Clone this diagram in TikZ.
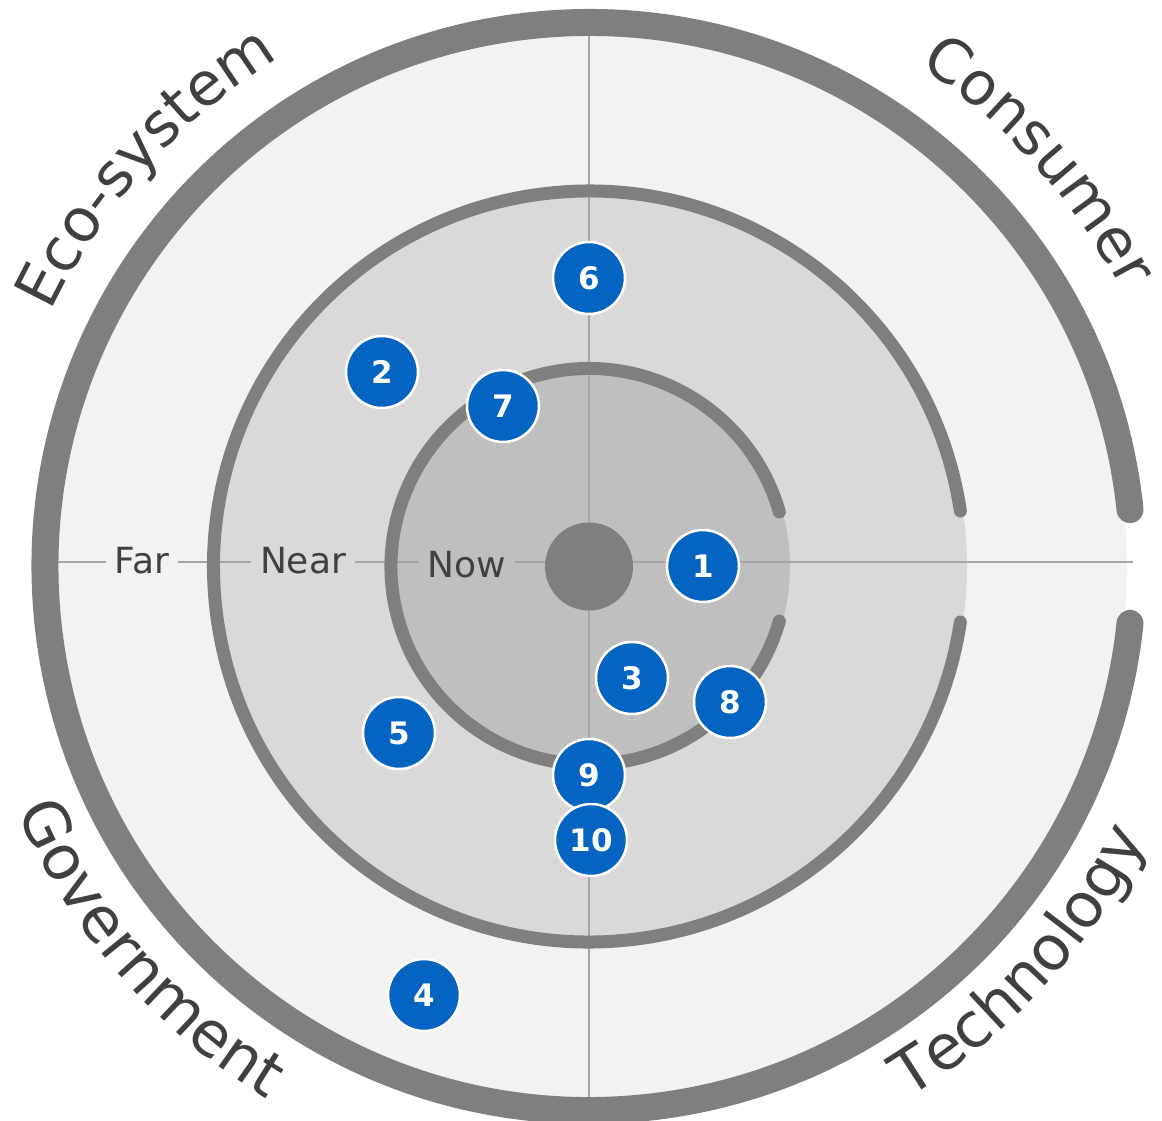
\documentclass[tikz,border=0pt]{standalone}
\usepackage{fontspec}
\setmainfont{DejaVu Sans}
\usetikzlibrary{decorations.text}
\definecolor{ringA}{HTML}{F2F2F2}
\definecolor{ringB}{HTML}{D9D9D9}
\definecolor{ringC}{HTML}{BFBFBF}
\definecolor{arcgray}{HTML}{7F7F7F}
\definecolor{axisgray}{HTML}{A6A6A6}
\definecolor{txtgray}{HTML}{404040}
\definecolor{bubblue}{HTML}{0563C1}
\begin{document}
\begin{tikzpicture}[x=1pt,y=1pt,
  bubble/.style={circle, fill=bubblue, draw=white, line width=2.5pt, minimum size=72pt, inner sep=0pt, text=white, font=\fontsize{31}{31}\selectfont\bfseries},
  axlabel/.style={inner xsep=9pt, inner ysep=2pt, text=txtgray, font=\fontsize{36}{36}\selectfont},
  ringarc/.style={draw=arcgray, line cap=round},
  axisline/.style={draw=axisgray, line width=1.5pt}]
\useasboundingbox (0,0) rectangle (1162,-1121);
\coordinate (O) at (589,-566.5);
% ring fills
\fill[ringA] (O) circle[radius=538];
\fill[ringB] (O) circle[radius=378];
\fill[ringC] (O) circle[radius=201];
% axes
\coordinate (vt) at (589,-23);
\coordinate (vb) at (589,-1110);
\coordinate (hl) at (45,-562);
\coordinate (hr) at (1133,-562);
\draw[axisline] (vt) -- (vb);
\draw[axisline] (hl) -- (hr);
% ring arcs
\draw[ringarc, line width=27pt] (O) ++(6:544) arc[start angle=6, end angle=354, radius=544];
\draw[ringarc, line width=13pt] (O) ++(8.5:375.5) arc[start angle=8.5, end angle=351.5, radius=375.5];
\draw[ringarc, line width=13pt] (O) ++(16:198) arc[start angle=16, end angle=344, radius=198];
% hub
\node[circle, fill=arcgray, minimum size=88pt, inner sep=0pt] (hub) at (O) {};
% axis labels
\node[axlabel, fill=ringA] (far) at (142,-561) {Far};
\node[axlabel, fill=ringB] (near) at (303,-561) {Near};
\node[axlabel, fill=ringC] (now) at (467,-565) {Now};
% sector labels
\path[decorate, decoration={text along path, text align=center,
  text={|\fontsize{60}{60}\selectfont\color{txtgray}|Eco-system}}]
  (O) ++(163:595) arc[start angle=163, end angle=113, radius=595];
\path[decorate, decoration={text along path, text align=center,
  text={|\fontsize{60}{60}\selectfont\color{txtgray}|Consumer}}]
  (O) ++(67:600) arc[start angle=67, end angle=17, radius=600];
\path[decorate, decoration={text along path, text align=center,
  text={|\fontsize{62}{62}\selectfont\color{txtgray}|Technology}}]
  (O) ++(-67.5:620) arc[start angle=-67.5, end angle=-17.5, radius=620];
\path[decorate, decoration={text along path, text align=center,
  text={|\fontsize{62}{62}\selectfont\color{txtgray}|Government}}]
  (O) ++(-164:622) arc[start angle=-164, end angle=-114, radius=622];
% bubbles
\node[bubble] (b1) at (703,-566) {1};
\node[bubble] (b2) at (382,-372) {2};
\node[bubble] (b3) at (632,-678) {3};
\node[bubble] (b4) at (424,-995) {4};
\node[bubble] (b5) at (399,-733) {5};
\node[bubble] (b6) at (589,-278) {6};
\node[bubble] (b7) at (503,-406) {7};
\node[bubble] (b8) at (730,-702) {8};
\node[bubble] (b9) at (589,-775) {9};
\node[bubble] (b10) at (591,-840) {10};
\end{tikzpicture}
\end{document}
